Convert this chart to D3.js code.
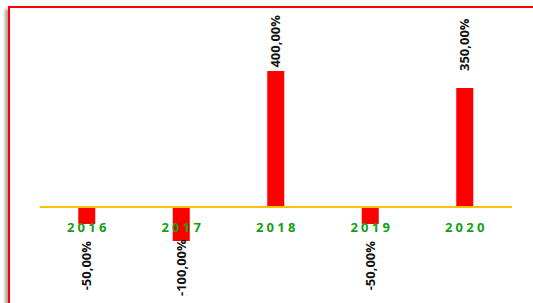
<!DOCTYPE html>
<html>

<head>
    <meta charset="utf-8">
    <script src="https://d3js.org/d3.v7.min.js"></script>
    <style>
        body {
            margin: 0;
            background: #fff;
        }

        .year {
            font: 700 13px "Open Sans", sans-serif;
            fill: #12a012;
            letter-spacing: 3.3px;
        }

        .value {
            font: 700 13px "Open Sans", sans-serif;
            fill: #111;
        }
    </style>
</head>

<body>
    <script>
        var years = ["2016", "2017", "2018", "2019", "2020"];
        var growth = [-0.5, -1.0, 4.0, -0.5, 3.5];

        var width = 533, height = 303;

        var svg = d3.select("body").append("svg")
            .attr("width", width)
            .attr("height", height);

        // frame with a soft shadow on the left
        var defs = svg.append("defs");
        var f = defs.append("filter").attr("id", "shadow")
            .attr("x", "-5%").attr("y", "-5%").attr("width", "110%").attr("height", "110%");
        f.append("feDropShadow")
            .attr("dx", -3).attr("dy", 3)
            .attr("stdDeviation", 1.5)
            .attr("flood-color", "#000")
            .attr("flood-opacity", 0.35);

        svg.append("rect")
            .attr("x", 9).attr("y", 7)
            .attr("width", 540).attr("height", 310)
            .attr("fill", "#fff")
            .attr("stroke", "#ff0000")
            .attr("stroke-width", 2)
            .attr("filter", "url(#shadow)");

        var plotTop = 15, plotBottom = 296;

        var x = d3.scaleBand()
            .domain(years)
            .range([39.5, 512])
            .padding(0);

        var y = d3.scaleLinear()
            .domain([-1, 4])
            .range([241, 71]);

        var barW = x.bandwidth() * 0.18;

        var locale = d3.formatLocale({ decimal: ",", thousands: ".", grouping: [3], currency: ["", "€"], minus: "-" });
        var fmt = locale.format(".2%");

        var data = years.map(function (d, i) { return { year: d, v: growth[i] }; });

        svg.append("g").selectAll("rect")
            .data(data)
            .enter().append("rect")
            .attr("x", function (d) { return x(d.year) + x.bandwidth() / 2 - barW / 2; })
            .attr("y", function (d) { return Math.min(y(d.v), y(0)); })
            .attr("width", barW)
            .attr("height", function (d) { return Math.abs(y(d.v) - y(0)); })
            .attr("fill", "#ff0000");

        // zero line
        svg.append("line")
            .attr("x1", x.range()[0]).attr("x2", x.range()[1])
            .attr("y1", y(0)).attr("y2", y(0))
            .attr("stroke", "#ffc000")
            .attr("stroke-width", 2);

        // category labels
        svg.append("g").selectAll("text")
            .data(years)
            .enter().append("text")
            .attr("class", "year")
            .attr("x", function (d) { return x(d) + x.bandwidth() / 2 + 1.6; })
            .attr("y", y(0) + 25)
            .attr("text-anchor", "middle")
            .text(function (d) { return d; });

        // value labels, rotated, kept inside the plot area
        var gap = 17;
        var labels = svg.append("g").selectAll("text")
            .data(data)
            .enter().append("text")
            .attr("class", "value")
            .attr("dy", "0.35em")
            .text(function (d) { return fmt(d.v); });

        labels.each(function (d) {
            var t = d3.select(this);
            var len = this.getComputedTextLength();
            var cx = x(d.year) + x.bandwidth() / 2;
            var p;
            if (d.v >= 0) {
                p = y(d.v) - gap;
                if (p - len < plotTop) p = plotTop + len;
                t.attr("text-anchor", "start");
            } else {
                p = y(d.v) + gap;
                if (p + len > plotBottom) p = plotBottom - len;
                t.attr("text-anchor", "end");
            }
            t.attr("transform", "translate(" + cx + "," + p + ") rotate(-90)");
        });
    </script>
</body>

</html>
